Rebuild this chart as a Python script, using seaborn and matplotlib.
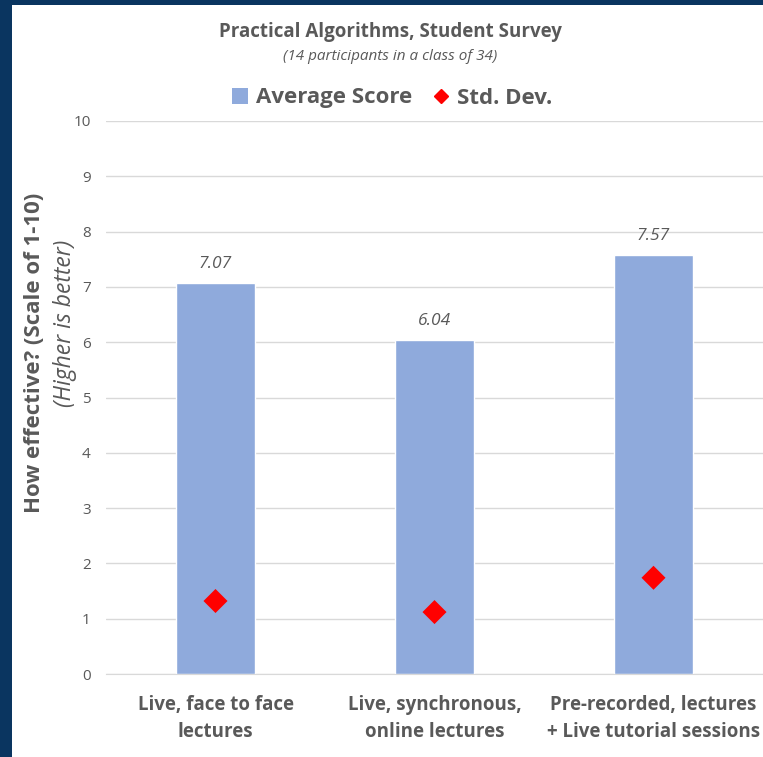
import numpy as np
import pandas as pd
import seaborn as sns
import matplotlib.pyplot as plt
from matplotlib.lines import Line2D
from matplotlib.patches import Patch, Rectangle

# data
categories = ['Live, face to face\nlectures',
              'Live, synchronous,\nonline lectures',
              'Pre-recorded, lectures\n+ Live tutorial sessions']
avg_score = [7.07, 6.04, 7.57]
std_dev = [1.32, 1.12, 1.74]

df = pd.DataFrame({'Mode': categories, 'Average Score': avg_score, 'Std. Dev.': std_dev})

sns.set_style('white')
plt.rcParams['font.family'] = ['Open Sans', 'DejaVu Sans']

GREY = '#595959'
BAR = '#8faadc'
NAVY = '#0a3560'

fig = plt.figure(figsize=(7.63, 7.57), dpi=100)
fig.patch.set_facecolor(NAVY)
# white chart area inside the navy frame
fig.patches.append(Rectangle((12 / 763, 0), 1 - 12 / 763, 1 - 5 / 757,
                             transform=fig.transFigure, facecolor='white',
                             edgecolor='none', zorder=-10))

ax = fig.add_axes([106 / 763, 1 - 674 / 757, 1 - 106 / 763, (674 - 121) / 757])
ax.patch.set_alpha(0)

sns.barplot(data=df, x='Mode', y='Average Score', color=BAR, width=0.365,
            saturation=1, ax=ax, zorder=2)
sns.scatterplot(data=df, x='Mode', y='Std. Dev.', marker='D', color='#ff0000',
                s=150, edgecolor='none', ax=ax, zorder=3)

for i, v in enumerate(avg_score):
    ax.text(i, v + 0.2, f'{v:.2f}', ha='center', va='bottom', fontsize=12.5,
            style='italic', color=GREY)

ax.set_ylim(0, 10)
ax.set_xlim(-0.5, 2.5)
ax.set_yticks(range(0, 11))
ax.yaxis.grid(True, color='#d9d9d9', linewidth=1)
ax.set_axisbelow(True)
for s in ['top', 'right', 'left']:
    ax.spines[s].set_visible(False)
ax.spines['bottom'].set_color('#d9d9d9')
ax.tick_params(axis='both', length=0)
ax.tick_params(axis='y', labelsize=11, labelcolor=GREY, pad=11)
ax.tick_params(axis='x', pad=15)
for lbl in ax.get_xticklabels():
    lbl.set_fontsize(13.5)
    lbl.set_fontweight('bold')
    lbl.set_color(GREY)
    lbl.set_linespacing(1.5)
ax.set_xlabel('')
ax.set_ylabel('')

fig.text(35 / 763, 1 - 353 / 757, 'How effective? (Scale of 1-10)', rotation=90,
         ha='center', va='center', fontsize=16, fontweight='bold', color=GREY)
fig.text(65 / 763, 1 - 323 / 757, '(Higher is better)', rotation=90,
         ha='center', va='center', fontsize=16.5, style='italic', color=GREY)

fig.text(390 / 763, 1 - 32 / 757, 'Practical Algorithms, Student Survey',
         ha='center', va='center', fontsize=13.5, fontweight='bold', color=GREY)
fig.text(390 / 763, 1 - 56 / 757, '(14 participants in a class of 34)',
         ha='center', va='center', fontsize=11, style='italic', color=GREY)

handles = [Patch(facecolor=BAR, edgecolor='none', label='Average Score'),
           Line2D([], [], marker='D', color='#ff0000', linestyle='none',
                  markersize=7, label='Std. Dev.')]
leg = fig.legend(handles=handles, loc='center', bbox_to_anchor=(392 / 763, 1 - 98 / 757),
                 ncol=2, frameon=False, handlelength=0.75, handletextpad=0.35,
                 columnspacing=0.9, prop={'size': 16, 'weight': 'bold'})
for t in leg.get_texts():
    t.set_color(GREY)

fig.savefig('out.png', dpi=100, facecolor=fig.get_facecolor())
